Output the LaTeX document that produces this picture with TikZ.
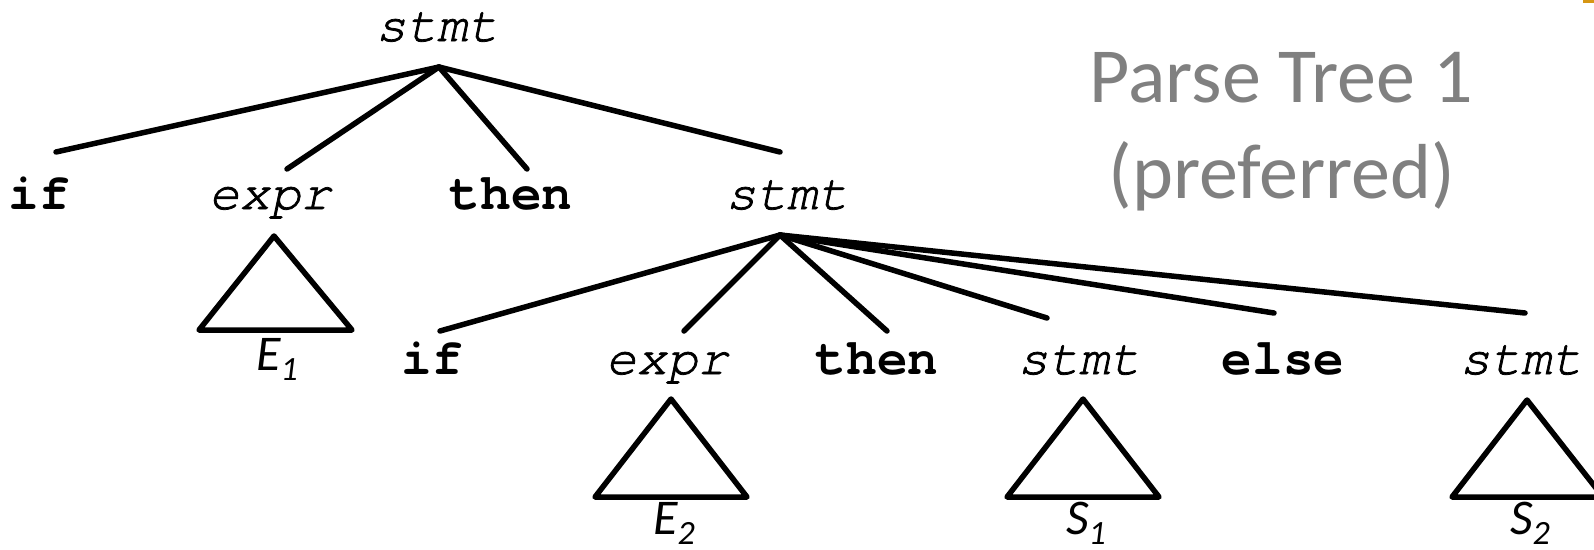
\documentclass[tikz,border=0pt]{standalone}
\usepackage{fontspec}
\setmainfont{Carlito}
\newfontfamily\cour{texgyrecursor}[Extension=.otf, UprightFont=*-regular, ItalicFont=*-italic, BoldFont=*-bold, BoldItalicFont=*-bolditalic, ItalicFeatures={FakeBold=1.5}]
\definecolor{titlegray}{RGB}{128,128,128}
\definecolor{markorange}{RGB}{214,150,20}
\newcommand{\subl}[2]{#1\raisebox{-0.2em}{\fontsize{34}{34}\selectfont #2}}
\begin{document}
\begin{tikzpicture}[x=1pt,y=-1pt,
  nt/.style={font=\cour\itshape\fontsize{51}{51}\selectfont, anchor=base, inner sep=0pt},
  kw/.style={font=\cour\bfseries\fontsize{51}{51}\selectfont, anchor=base, inner sep=0pt},
  edge/.style={line width=5.5pt, line cap=round},
  tri/.style={line width=5.5pt, line join=round},
  lab/.style={font=\itshape\fontsize{50}{50}\selectfont, anchor=base, inner sep=0pt},
  title/.style={font=\fontsize{78}{95}\selectfont, text=titlegray, anchor=base, inner sep=0pt}]
\useasboundingbox (0,0) rectangle (1594,549);
\fill[markorange] (1583,0) rectangle (1594,3);

% title
\node[title] (pt1) at (1281,102) {Parse Tree 1};
\node[title] (pt2) at (1282,198) {(preferred)};

% root
\node[nt] (s0) at (437,41) {stmt};
\coordinate (s0a) at (439,67);

% level 1
\node[kw] (if1) at (39,209) {if};
\node[nt] (ex1) at (270,209) {expr};
\node[kw] (th1) at (511,209) {then};
\node[nt] (s1) at (787,209) {stmt};
\coordinate (if1t) at (56,152);
\coordinate (ex1t) at (287,169);
\coordinate (th1t) at (527,169);
\coordinate (s1t) at (780,152);
\foreach \c in {if1t,ex1t,th1t,s1t} \draw[edge] (s0a) -- (\c);

% E1 triangle
\coordinate (e1a) at (274,236);
\coordinate (e1l) at (199,330);
\coordinate (e1r) at (352,330);
\draw[tri] (e1a) -- (e1l) -- (e1r) -- cycle;
\node[lab] (e1) at (277,370) {\subl{E}{1}};

% level 2
\coordinate (s1a) at (780,235);
\node[kw] (if2) at (432,374) {if};
\node[nt] (ex2) at (667,374) {expr};
\node[kw] (th2) at (877,374) {then};
\node[nt] (s2) at (1079,374) {stmt};
\node[kw] (el2) at (1283,374) {else};
\node[nt] (s3) at (1521,374) {stmt};
\coordinate (if2t) at (440,331);
\coordinate (ex2t) at (684,331);
\coordinate (th2t) at (887,331);
\coordinate (s2t) at (1047,318);
\coordinate (el2t) at (1274,313);
\coordinate (s3t) at (1525,313);
\foreach \c in {if2t,ex2t,th2t,s2t,el2t,s3t} \draw[edge] (s1a) -- (\c);

% E2 triangle
\draw[tri] (671,399) coordinate (e2a) -- (595,497) coordinate (e2l) -- (747,497) coordinate (e2r) -- cycle;
\node[lab] (e2) at (674,534) {\subl{E}{2}};

% S1 triangle
\draw[tri] (1083,399) coordinate (t1a) -- (1007,497) coordinate (t1l) -- (1159,497) coordinate (t1r) -- cycle;
\node[lab] (ls1) at (1086,534) {\subl{S}{1}};

% S2 triangle
\draw[tri] (1527,400) coordinate (t2a) -- (1452,497) coordinate (t2l) -- (1603,497) coordinate (t2r) -- cycle;
\node[lab] (ls2) at (1530,534) {\subl{S}{2}};
\end{tikzpicture}
\end{document}
